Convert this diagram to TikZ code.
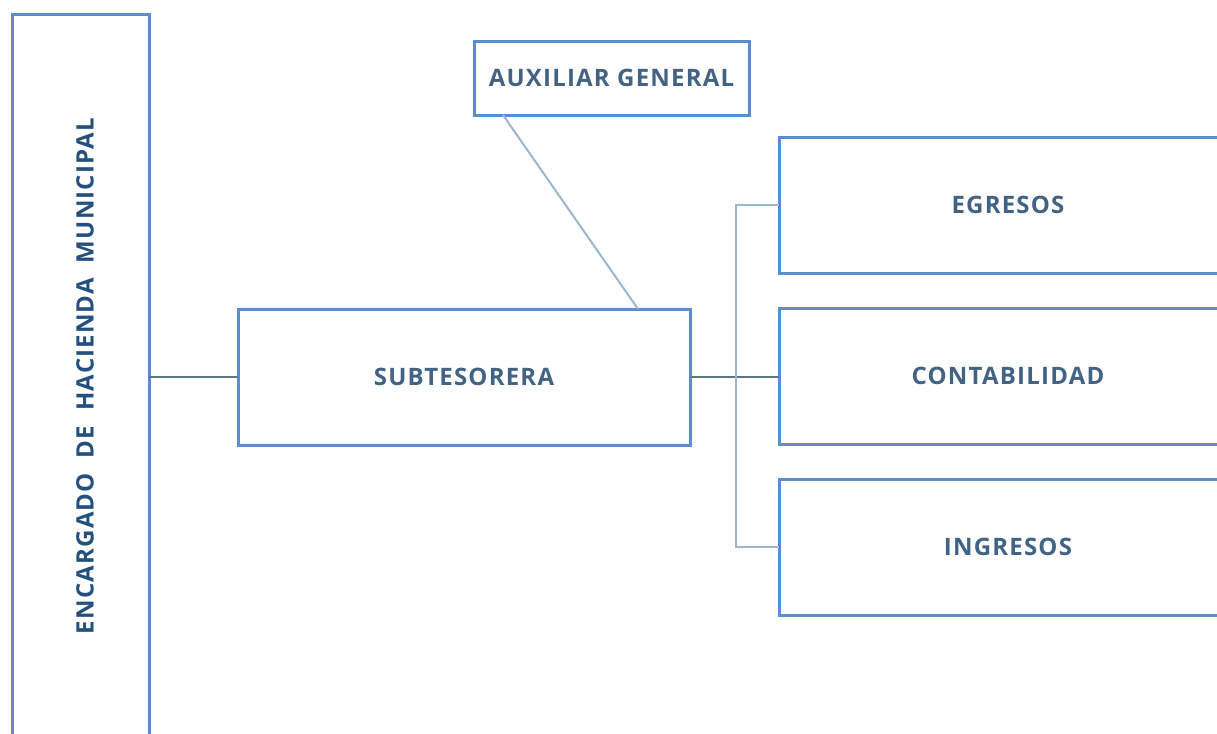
\documentclass[tikz,border=0pt]{standalone}
\usepackage{fontspec}
\setmainfont{Open Sans}[LetterSpace=5]
\usepackage{tikz}

\definecolor{boxblue}{HTML}{5A8FCB}
\definecolor{textblue}{HTML}{436385}
\definecolor{darkblue}{HTML}{24507F}
\definecolor{linkgray}{HTML}{5E7584}
\definecolor{linklight}{HTML}{9DB6CF}

\begin{document}
\begin{tikzpicture}[x=0.5pt,y=-0.5pt,
    unit/.style={draw=boxblue,line width=1.5pt,fill=white,rectangle,
      inner sep=0,outer sep=0,font=\bfseries\fontsize{12}{14}\selectfont,text=textblue},
    link/.style={draw=linkgray,line width=0.8pt},
    lightlink/.style={draw=linklight,line width=1pt}]
      \useasboundingbox (0,0) rectangle (1217,734);
      \clip (0,0) rectangle (1217,734);
      \node[unit,minimum width=68.5pt,minimum height=373pt] (jefe) at (80.5,387) {};
      \node[rotate=90,text=darkblue,font=\bfseries\fontsize{12}{14}\selectfont] (jefetext) at (85,376) {ENCARGADO\ \ DE\ \ HACIENDA\ \ MUNICIPAL};
      \node[unit,minimum width=226pt,minimum height=68pt] (sub) at (464,377) {SUBTESORERA};
      \node[unit,minimum width=137.5pt,minimum height=37pt] (aux) at (611.5,78) {AUXILIAR GENERAL};
      \foreach \name/\label/\y in {egr/EGRESOS/205, cont/CONTABILIDAD/376, ingr/INGRESOS/547}
        \node[unit,minimum width=229pt,minimum height=68pt] (\name) at (1008,\y) {\label};
      % connectors
      \draw[link] (jefe.east |- sub.west) -- (sub.west);
      \draw[lightlink] ([xshift=14.5pt]aux.south west) -- ([xshift=87pt]sub.north);
      \draw[link] (sub.east) -- (cont.west |- sub.east);
      \draw[lightlink] (egr.west) -- ++(-43,0) |- (ingr.west);
\end{tikzpicture}
\end{document}
